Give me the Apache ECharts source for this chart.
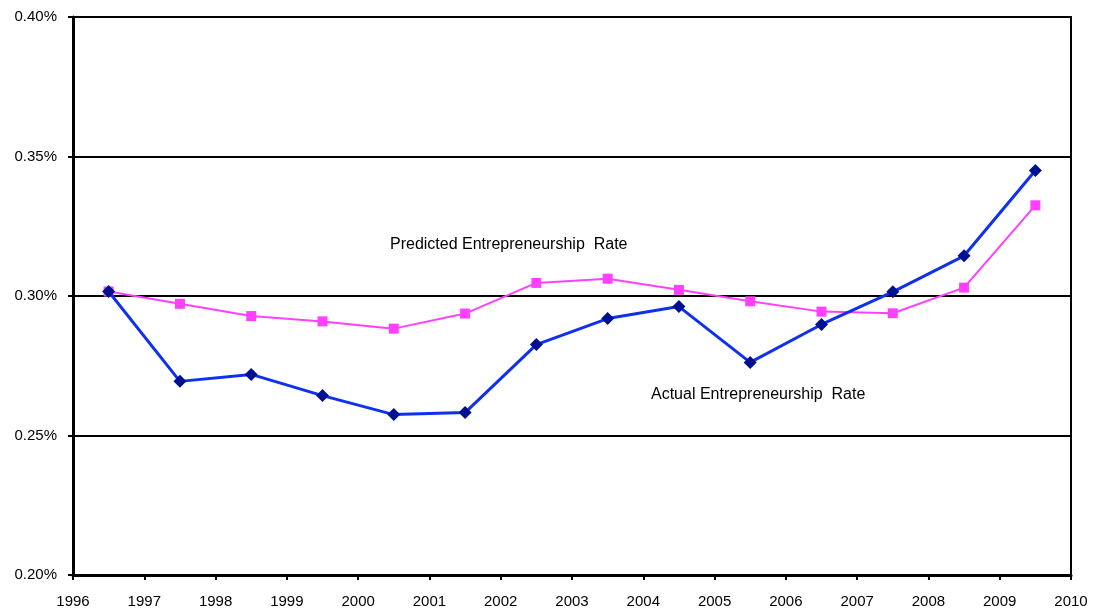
<!DOCTYPE html>
<html>
<head>
<meta charset="utf-8">
<script src="https://cdn.jsdelivr.net/npm/echarts@6/dist/echarts.min.js"></script>
<style>html,body{margin:0;padding:0;background:#fff}#c{width:1098px;height:616px}</style>
</head>
<body>
<div id="c"></div>
<script>
const years = [1996,1997,1998,1999,2000,2001,2002,2003,2004,2005,2006,2007,2008,2009];
const actualRate = [0.3016,0.2694,0.2719,0.2643,0.2575,0.2582,0.2826,0.2919,0.2962,0.2762,0.2898,0.3015,0.3144,0.3450];
const predictedRate = [0.3016,0.2972,0.2928,0.2909,0.2883,0.2937,0.3047,0.3062,0.3022,0.2981,0.2944,0.2938,0.3030,0.3325];
const actualLabel = 'Actual Entrepreneurship  Rate';
const predictedLabel = 'Predicted Entrepreneurship  Rate';

const font = 'Liberation Sans, Arial, sans-serif';
const chart = echarts.init(document.getElementById('c'), null, {renderer:'canvas'});
const toPts = arr => arr.map((v,i)=>[years[i]+0.5, v]);
chart.setOption({
  animation:false,
  backgroundColor:'#fff',
  grid:{left:73,right:27,top:17,bottom:41,show:true,borderColor:'#000',borderWidth:2,backgroundColor:'transparent'},
  xAxis:{type:'value',min:1996,max:2010,interval:1,
    axisLine:{show:true,onZero:false,lineStyle:{color:'#000',width:3}},
    axisTick:{show:true,length:5,lineStyle:{color:'#000',width:2}},
    axisLabel:{color:'#000',fontSize:15,fontFamily:font,margin:19,formatter:v=>String(v)},
    splitLine:{show:false}},
  yAxis:{type:'value',min:0.20,max:0.40,interval:0.05,
    axisLine:{show:true,lineStyle:{color:'#000',width:3}},
    axisTick:{show:true,length:5,lineStyle:{color:'#000',width:2}},
    axisLabel:{color:'#000',fontSize:15,fontFamily:font,margin:16,formatter:v=>v.toFixed(2)+'%'},
    splitLine:{show:true,lineStyle:{color:'#000',width:2}}},
  series:[
    {name:predictedLabel,type:'line',data:toPts(predictedRate),symbol:'rect',symbolSize:10,
      lineStyle:{color:'#FF40FF',width:2},itemStyle:{color:'#FF40FF'},z:3},
    {name:actualLabel,type:'line',data:toPts(actualRate),symbol:'diamond',symbolSize:13,
      lineStyle:{color:'#1030F0',width:3},itemStyle:{color:'#001090'},z:4}
  ],
  graphic:[
    {type:'text',left:390,top:237,style:{text:predictedLabel,fill:'#000',font:'16px '+font}},
    {type:'text',left:651,top:387,style:{text:actualLabel,fill:'#000',font:'16px '+font}}
  ]
});
</script>
</body>
</html>
